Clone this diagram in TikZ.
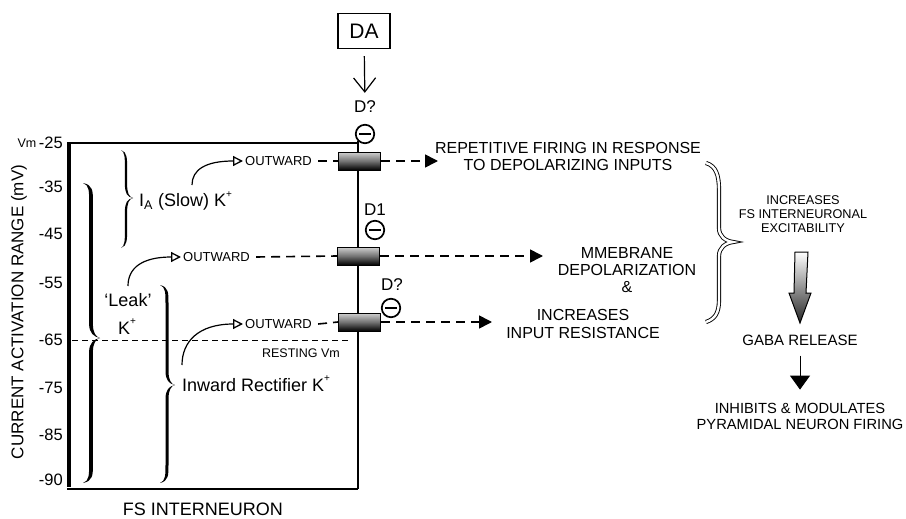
\documentclass[tikz,border=0pt]{standalone}
\usepackage{fontspec}
\setmainfont{Liberation Sans}
\usetikzlibrary{arrows.meta,calc}
% tapered right-facing brace: x0 (ends), xs (spine), xt (tip), ytop, ymid, ybot, half-thickness
\newcommand\taperbrace[7]{%
 \fill (#1,#4) .. controls ({#2+#7},{#4+2}) and ({#2+#7},{#4+8}) .. ({#2+#7},{#4+18})
  -- ({#2+#7},{#5-14}) .. controls ({#2+#7},{#5-5}) and ({#3-4},{#5-1}) .. (#3,#5)
  .. controls ({#3-4},{#5+1}) and ({#2+#7},{#5+5}) .. ({#2+#7},{#5+14})
  -- ({#2+#7},{#6-18}) .. controls ({#2+#7},{#6-8}) and ({#2+#7},{#6-2}) .. (#1,#6)
  .. controls ({#2-#7},{#6-2}) and ({#2-#7},{#6-8}) .. ({#2-#7},{#6-18})
  -- ({#2-#7},{#5+14}) .. controls ({#2-#7},{#5+5}) and ({#3-6},{#5+1}) .. (#3,#5)
  .. controls ({#3-6},{#5-1}) and ({#2-#7},{#5-5}) .. ({#2-#7},{#5-14})
  -- ({#2-#7},{#4+18}) .. controls ({#2-#7},{#4+8}) and ({#2-#7},{#4+2}) .. (#1,#4) -- cycle;}
\newcommand\kplus{K\raisebox{0.55em}{\fontsize{10}{10}\selectfont +}}
\begin{document}
\begin{tikzpicture}[x=1pt,y=-1pt,
  lbl/.style={inner sep=0pt},
  big/.style={font=\fontsize{18}{20}\selectfont},
  mid/.style={font=\fontsize{16}{17.3}\selectfont, align=center},
  small/.style={font=\fontsize{13}{14}\selectfont},
  chan/.style={draw, line width=1pt, minimum width=42pt, minimum height=18pt, inner sep=0pt,
     top color=black!18, bottom color=black, middle color=black!55},
  minuscirc/.style={circle, draw, line width=1.7pt, minimum size=18.5pt, inner sep=0pt, fill=white,
     path picture={\draw[line width=2.8pt] ([xshift=-6pt]path picture bounding box.center) -- ([xshift=6pt]path picture bounding box.center);}},
  dsh/.style={dash pattern=on 9pt off 6pt, line width=1.6pt},
  tri/.style={-{Triangle[length=13pt,width=13pt]}},
  otri/.style={-{Triangle[open,length=10pt,width=10pt,line width=1.3pt]}, line width=1.2pt}
]
\useasboundingbox (0,0) rectangle (906,519);

% ---------- axis frame ----------
\draw[line width=2pt] (69,143) -- (358,143);
\draw[line width=2pt] (67,489) -- (358,489);
\draw[line width=4.5pt] (69,142) -- (69,487);
\draw[line width=1pt, dash pattern=on 6pt off 4pt] (72,340) -- (350,340);
\node[lbl, font=\fontsize{12.5}{13}\selectfont] (rest) at (301,353) {RESTING Vm};

% y axis
\node[lbl, font=\fontsize{17}{18}\selectfont, rotate=90] (ytitle) at (19,312) {CURRENT ACTIVATION RANGE (mV)};
\node[lbl, font=\fontsize{12.5}{13}\selectfont] (vm) at (27,143) {Vm};
\foreach \v/\yy/\nm in {-25/143/a,-35/187/b,-45/234/c,-55/283/d,-65/340/e,-75/388/f,-85/435/g,-90/480/h}
  \node[lbl, anchor=east, font=\fontsize{16.5}{17}\selectfont] (tick\nm) at (63,\yy) {\v};

\node[lbl, big] (fs) at (203,509) {FS INTERNEURON};

% ---------- DA ----------
\node[draw, line width=1.3pt, minimum width=52pt, minimum height=35pt, inner sep=0pt,
      font=\fontsize{21}{22}\selectfont] (da) at (364,31) {DA};
\node[lbl, font=\fontsize{17}{18}\selectfont] (dq1) at (365,107) {D?};
\draw[line width=1.2pt, -{Straight Barb[length=14pt,width=22pt,line width=1.2pt]}, shorten <=7pt, shorten >=8pt] (da) -- (dq1);
\node[minuscirc] (m1) at (365,134) {};
\node[lbl, font=\fontsize{17}{18}\selectfont] (d1) at (375,210) {D1};
\node[minuscirc] (m2) at (375,230) {};
\node[lbl, font=\fontsize{17}{18}\selectfont] (dq2) at (392,285) {D?};
\node[minuscirc] (m3) at (391,308) {};

% membrane line and channels
\coordinate (memtop) at (358,141);
\coordinate (membot) at (358,489);
\draw[line width=2pt] (memtop) -- (membot);
\node[chan] (ch1) at (359.5,161) {};
\node[chan] (ch2) at (358.5,256) {};
\node[chan] (ch3) at (359.5,322) {};

% ---------- braces and currents ----------
\taperbrace{121}{126}{133}{150}{198}{248}{1.1}
\taperbrace{83}{91}{100}{183}{338}{483}{1.9}
\taperbrace{160}{167}{175}{285}{385}{483}{1.5}

\node[lbl, big, anchor=west] (ia) at (139,201) {I\textsubscript{A} (Slow) \kplus};
\node[lbl, big] (leak) at (128,300) {‘Leak’};
\node[lbl, big] (leakk) at (127,327) {\kplus};
\node[lbl, big, anchor=west] (ir) at (182,384) {Inward Rectifier \kplus};

\node[lbl, small, anchor=west] (o1) at (245,161) {OUTWARD};
\node[lbl, small, anchor=west] (o2) at (183,257) {OUTWARD};
\node[lbl, small, anchor=west] (o3) at (245,324) {OUTWARD};

\coordinate (s1) at (192,185);
\coordinate (s2) at (128,286);
\coordinate (s3) at (182,365);
\draw[otri] (s1) .. controls (192,170) and (205,161) .. ([xshift=-2pt]o1.west);
\draw[otri] (s2) .. controls (128,268) and (142,257) .. ([xshift=-2pt]o2.west);
\draw[otri] (s3) .. controls (182,342) and (198,324) .. ([xshift=-2pt]o3.west);

\draw[dsh] ([xshift=6pt]o1.east) -- (ch1.west);
\draw[dsh] ([xshift=6pt]o2.east) -- (ch2.west);
\draw[dsh] ([xshift=6pt]o3.east) -- (ch3.west);

% ---------- effects ----------
\node[lbl, mid] (rep) at (568,156.5) {REPETITIVE FIRING IN RESPONSE\\TO DEPOLARIZING INPUTS};
\node[lbl, mid] (mem) at (627,270) {MMEBRANE\\DEPOLARIZATION\\\&};
\node[lbl, mid] (inp) at (583,324) {INCREASES\\INPUT RESISTANCE};
\coordinate (e1) at (438,161);
\coordinate (e2) at (543,256);
\coordinate (e3) at (492,322);
\draw[dsh, tri] (ch1.east) -- (e1);
\draw[dsh, tri] (ch2.east) -- (e2);
\draw[dsh, tri] (ch3.east) -- (e3);

% outlined big brace
\draw[line width=0.9pt, double=white, double distance=2.4pt]
  (706,163) .. controls (716,166) and (719,175) .. (719,190) -- (719,228)
  .. controls (719,236) and (725,241) .. (733,242)
  .. controls (725,243) and (719,248) .. (719,256) -- (719,300)
  .. controls (719,313) and (715,319) .. (706,322);

\node[lbl, font=\fontsize{12.7}{14}\selectfont, align=center] (exc) at (803,214) {INCREASES\\FS INTERNEURONAL\\EXCITABILITY};

\draw[line width=1pt, top color=white, bottom color=black!85]
  (795,252) -- (808,252) -- (806,293) -- (811,293) -- (800,323) -- (789,293) -- (794,293) -- cycle;

\node[lbl, font=\fontsize{15}{16}\selectfont] (gaba) at (800,340) {GABA RELEASE};
\node[lbl, font=\fontsize{14.7}{16}\selectfont, align=center] (inh) at (800,416) {INHIBITS \& MODULATES\\PYRAMIDAL NEURON FIRING};
\draw[line width=1pt, -{Triangle[length=14pt,width=20pt]}, shorten <=10pt, shorten >=13pt] (gaba) -- (inh);
\end{tikzpicture}
\end{document}
